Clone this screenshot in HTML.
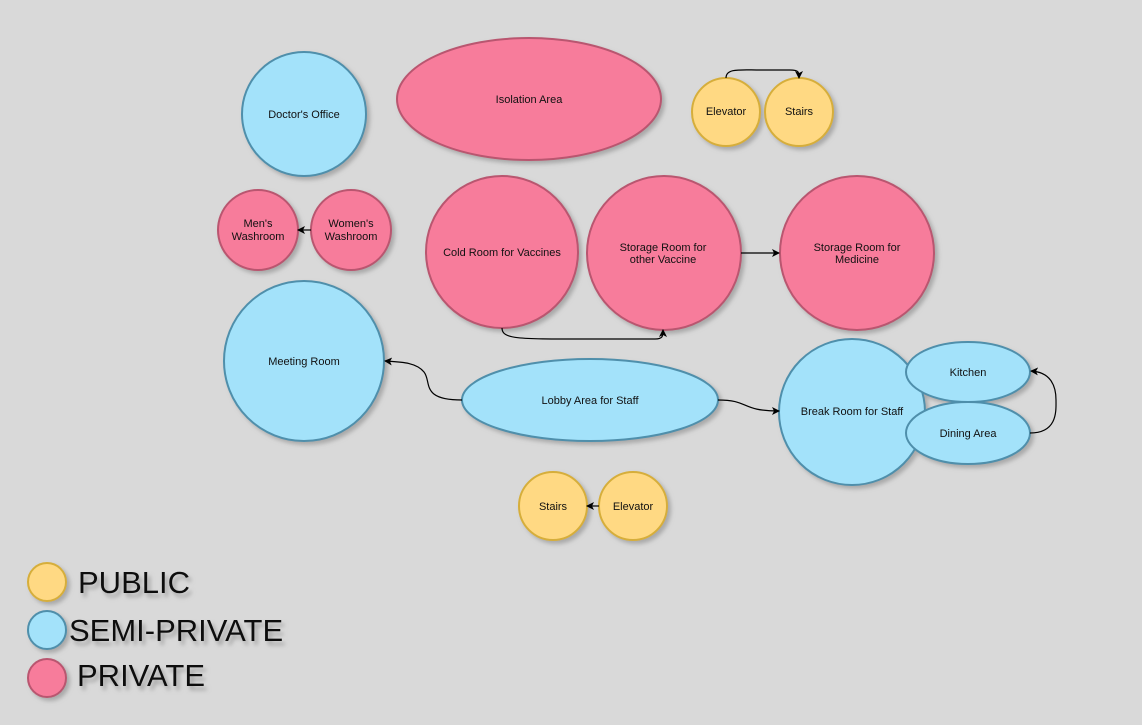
<!DOCTYPE html>
<html><head><meta charset="utf-8"><style>
body{margin:0;background:#d9d9d9;}
svg{display:block;font-family:"Liberation Sans",Arial,sans-serif;}
.y{fill:#ffd983;stroke:#d6ae3a;stroke-width:2}
.b{fill:#a3e2fa;stroke:#4f8fab;stroke-width:2}
.p{fill:#f77c9b;stroke:#b9566f;stroke-width:2}
.t{font-size:11px;fill:#111;text-anchor:middle}
.e{fill:none;stroke:#000;stroke-width:1.2}
.lg{font-size:31px;fill:#111;filter:url(#ts)}
</style></head><body>
<svg width="1142" height="725" viewBox="0 0 1142 725">
<defs>
<filter id="sh" x="-20%" y="-20%" width="150%" height="150%"><feDropShadow dx="3" dy="3" stdDeviation="2" flood-color="#888" flood-opacity="0.6"/></filter>
<filter id="ts" x="-10%" y="-30%" width="130%" height="180%"><feDropShadow dx="3" dy="4" stdDeviation="2" flood-color="#777" flood-opacity="0.6"/></filter>
<marker id="ar" markerWidth="8" markerHeight="8" refX="7" refY="4" orient="auto" markerUnits="userSpaceOnUse"><path d="M0,0 L8,4 L0,8 L2,4 z" fill="#000"/></marker>
</defs>
<g filter="url(#sh)">
<circle class="b" cx="304" cy="114" r="62"/>
<ellipse class="p" cx="529" cy="99" rx="132" ry="61"/>
<circle class="y" cx="726" cy="112" r="34"/>
<circle class="y" cx="799" cy="112" r="34"/>
<circle class="p" cx="258" cy="230" r="40"/>
<circle class="p" cx="351" cy="230" r="40"/>
<circle class="p" cx="502" cy="252" r="76"/>
<circle class="p" cx="664" cy="253" r="77"/>
<circle class="p" cx="857" cy="253" r="77"/>
<circle class="b" cx="304" cy="361" r="80"/>
<ellipse class="b" cx="590" cy="400" rx="128" ry="41"/>
<circle class="b" cx="852" cy="412" r="73"/>
<ellipse class="b" cx="968" cy="372" rx="62" ry="30"/>
<ellipse class="b" cx="968" cy="433" rx="62" ry="31"/>
<circle class="y" cx="553" cy="506" r="34"/>
<circle class="y" cx="633" cy="506" r="34"/>
<circle class="y" cx="47" cy="582" r="19"/>
<circle class="b" cx="47" cy="630" r="19"/>
<circle class="p" cx="47" cy="678" r="19"/>
</g>
<g>
<path class="e" d="M726,78 C726,68 740,70 760,70 L790,70 C799,70 799,72 799,78" marker-end="url(#ar)"/>
<path class="e" d="M311,230 L298,230" marker-end="url(#ar)"/>
<path class="e" d="M741,253 L779,253" marker-end="url(#ar)"/>
<path class="e" d="M502,328 C502,340 520,339 600,339 L655,339 C663,339 663,336 663,330" marker-end="url(#ar)"/>
<path class="e" d="M462,400 C420,400 432,382 424,372 C416,362 400,362 385,361" marker-end="url(#ar)"/>
<path class="e" d="M718,400 C750,400 740,411 779,411" marker-end="url(#ar)"/>
<path class="e" d="M1030,433 C1058,433 1056,410 1056,400 C1056,385 1050,372 1031,371" marker-end="url(#ar)"/>
<path class="e" d="M599,506 L587,506" marker-end="url(#ar)"/>
</g>
<g>
<text class="t" x="304" y="118">Doctor's Office</text>
<text class="t" x="529" y="103">Isolation Area</text>
<text class="t" x="726" y="115">Elevator</text>
<text class="t" x="799" y="115">Stairs</text>
<text class="t" x="258" y="227">Men's</text><text class="t" x="258" y="240">Washroom</text>
<text class="t" x="351" y="227">Women's</text><text class="t" x="351" y="240">Washroom</text>
<text class="t" x="502" y="256">Cold Room for Vaccines</text>
<text class="t" x="663" y="251">Storage Room for</text><text class="t" x="663" y="263">other Vaccine</text>
<text class="t" x="857" y="251">Storage Room for</text><text class="t" x="857" y="263">Medicine</text>
<text class="t" x="304" y="365">Meeting Room</text>
<text class="t" x="590" y="404">Lobby Area for Staff</text>
<text class="t" x="852" y="415">Break Room for Staff</text>
<text class="t" x="968" y="376">Kitchen</text>
<text class="t" x="968" y="437">Dining Area</text>
<text class="t" x="553" y="510">Stairs</text>
<text class="t" x="633" y="510">Elevator</text>
</g>
<text class="lg" x="78" y="593">PUBLIC</text>
<text class="lg" x="69" y="641">SEMI-PRIVATE</text>
<text class="lg" x="77" y="686">PRIVATE</text>
</svg>
</body></html>
